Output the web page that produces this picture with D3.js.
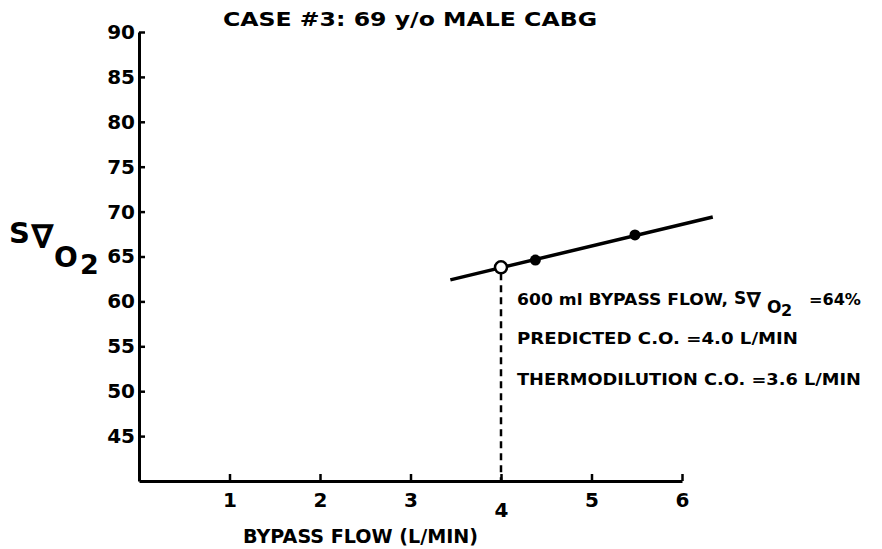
<!DOCTYPE html>
<html>
<head>
<meta charset="utf-8">
<script src="https://cdn.jsdelivr.net/npm/d3@7"></script>
<style>
  body { margin: 0; background: #fff; }
  svg text { font-family: "DejaVu Sans", "Liberation Sans", sans-serif; font-weight: bold; fill: #000; }
</style>
</head>
<body>
<div id="chart"></div>
<script>
// data
const xTicks = [1, 2, 3, 4, 5, 6];
const yTicks = [45, 50, 55, 60, 65, 70, 75, 80, 85, 90];
const fitFlow = [3.44, 6.34];      // ends of the drawn line
const fitSat = [62.4, 69.4];
const measuredFlow = [4.38, 5.48]; // filled dots
const measuredSat = [64.6, 67.4];
const predictedFlow = 4.0;         // open dot
const predictedSat = 63.8;
const notes = [
  "PREDICTED C.O. =4.0 L/MIN",
  "THERMODILUTION C.O. =3.6 L/MIN"
];

const W = 882, H = 549;
const svg = d3.select("#chart").append("svg")
  .attr("width", W).attr("height", H);

const x = d3.scaleLinear().domain([0, 6]).range([139, 682]);
const y = d3.scaleLinear().domain([40, 90]).range([481, 32]);

// axes
const xAxis = svg.append("g")
  .attr("transform", "translate(0," + y(40) + ")")
  .call(d3.axisBottom(x).tickValues(xTicks).tickFormat(d3.format("d"))
    .tickSizeInner(-7).tickSizeOuter(0).tickPadding(12));
xAxis.selectAll("text").style("font-size", "20px")
  .attr("dy", d => d === 4 ? "1.2em" : "0.71em");

const yAxis = svg.append("g")
  .attr("transform", "translate(" + x(0) + ",0)")
  .call(d3.axisLeft(y).tickValues(yTicks).tickSizeInner(-6).tickSizeOuter(0).tickPadding(4));
yAxis.selectAll("text").style("font-size", "20px");

svg.selectAll(".domain").attr("stroke-width", 3).attr("stroke", "#000");
svg.selectAll(".tick line").attr("stroke-width", 2.5).attr("stroke", "#000");

// dashed drop line from the predicted point
svg.append("line")
  .attr("x1", x(predictedFlow)).attr("x2", x(predictedFlow))
  .attr("y1", y(predictedSat) + 6).attr("y2", y(40))
  .attr("stroke", "#000").attr("stroke-width", 2.5)
  .attr("stroke-dasharray", "7,5");

// fitted line
svg.append("line")
  .attr("x1", x(fitFlow[0])).attr("y1", y(fitSat[0]))
  .attr("x2", x(fitFlow[1])).attr("y2", y(fitSat[1]))
  .attr("stroke", "#000").attr("stroke-width", 3.5);

svg.selectAll(".dot")
  .data(measuredFlow)
  .enter().append("circle")
  .attr("cx", d => x(d))
  .attr("cy", (d, i) => y(measuredSat[i]))
  .attr("r", 5.5)
  .attr("fill", "#000");

svg.append("circle")
  .attr("cx", x(predictedFlow)).attr("cy", y(predictedSat))
  .attr("r", 6)
  .attr("fill", "#fff").attr("stroke", "#000").attr("stroke-width", 2.5);

// title
svg.append("text")
  .attr("x", 223).attr("y", 26)
  .attr("textLength", 374).attr("lengthAdjust", "spacingAndGlyphs")
  .style("font-size", "19px")
  .text("CASE #3: 69 y/o MALE CABG");

// x axis label
svg.append("text")
  .attr("x", 243).attr("y", 543)
  .attr("textLength", 235).attr("lengthAdjust", "spacingAndGlyphs")
  .style("font-size", "19px")
  .text("BYPASS FLOW (L/MIN)");

// small helper for free text
function label(txt, px, py, size, len) {
  const t = svg.append("text").attr("x", px).attr("y", py)
    .style("font-size", size + "px").text(txt);
  if (len) t.attr("textLength", len).attr("lengthAdjust", "spacingAndGlyphs");
  return t;
}

// y axis label S v O2
label("S", 9, 243, 29);
label("\u2207", 32, 247, 31).style("font-weight", "normal").style("stroke", "#000").style("stroke-width", 1.4);
label("O", 54, 267, 28);
label("2", 80, 274, 27);

// annotations
const ax = x(predictedFlow) + 16;
label("600 ml BYPASS FLOW,", ax, 305, 15, 211);
label("S", ax + 217, 304, 17);
label("\u2207", ax + 230, 307, 20).style("font-weight", "normal").style("stroke", "#000").style("stroke-width", 0.9);
label("O", ax + 250, 313, 17);
label("2", ax + 264, 316, 16);
label("=64%", ax + 292, 305, 15, 52);

svg.selectAll(".note")
  .data(notes)
  .enter().append("text")
  .attr("x", ax)
  .attr("y", (d, i) => 344 + i * 41)
  .attr("textLength", (d, i) => i === 0 ? 281 : 344)
  .attr("lengthAdjust", "spacingAndGlyphs")
  .style("font-size", "15px")
  .text(d => d);
</script>
</body>
</html>
